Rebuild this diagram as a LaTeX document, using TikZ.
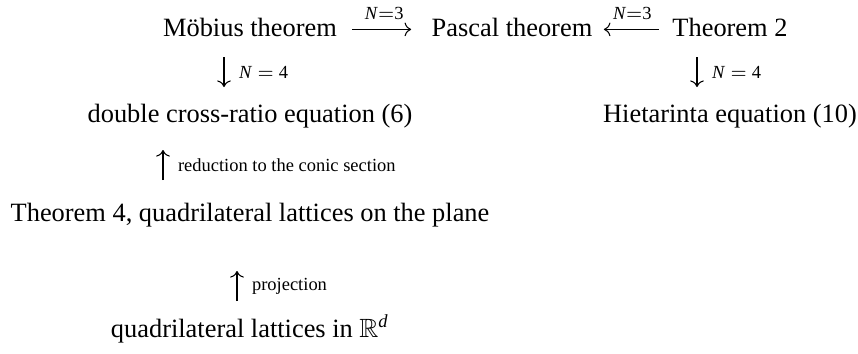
\documentclass[tikz,border=0pt]{standalone}
\usepackage{amsmath}
\usepackage{amssymb}
\usepackage{fontspec}
\setmainfont{Liberation Serif}
\usetikzlibrary{arrows.meta}

\begin{document}
\begin{tikzpicture}[x=0.3788pt, y=-0.3788pt,
  font=\fontsize{10}{12}\selectfont,
  stmt/.style={inner sep=0pt, text height=7pt, text depth=2pt, anchor=base},
  arr/.style={-{To}, line width=0.4pt},
  hlbl/.style={above=3.6pt, inner sep=0pt, font=\fontsize{7}{8}\selectfont},
  vlbl/.style={right=5.5pt, inner sep=0pt, font=\fontsize{7}{8}\selectfont}]

\useasboundingbox (0,0) rectangle (858,353);

% --- statements (three columns) ---
\node[stmt] (mob)  at (250,36)  {Möbius theorem};
\node[stmt] (pas)  at (512,36)  {Pascal theorem};
\node[stmt] (thm2) at (730,36)  {Theorem 2};
\node[stmt] (dcr)  at (250,122) {double cross-ratio equation (6)};
\node[stmt] (hie)  at (730,122) {Hietarinta equation (10)};
\node[stmt] (thm4) at (250,221) {Theorem 4, quadrilateral lattices on the plane};
\node[stmt] (qlat) at (250,337) {quadrilateral lattices in $\mathbb{R}^{\text{\itshape d}}$};

% --- horizontal arrows ---
\draw[arr, shorten <=5.7pt, shorten >=7.6pt] (mob.east)
  -- node[hlbl] {\textit{N}$=$3} (pas.west);
\draw[arr, shorten <=4.9pt, shorten >=4.2pt] (thm2.west)
  -- node[hlbl] {\textit{N}$=$3} (pas.east);

% --- vertical arrows: name/x/from/to/label ---
\foreach \nm/\ax/\ya/\yb/\lbl in
  {dnL/224/57/87/{\textit{N}\hspace{2pt}$=$\hspace{2pt}4},
   dnR/697/57/87/{\textit{N}\hspace{2pt}$=$\hspace{2pt}4},
   upA/163/180/150/{reduction to the conic section},
   upB/237/301/271/{projection}}{%
  \coordinate (\nm s) at (\ax,\ya);
  \coordinate (\nm e) at (\ax,\yb);
  \draw[arr] (\nm s) -- node[vlbl] {\lbl} (\nm e);
}

\end{tikzpicture}
\end{document}
